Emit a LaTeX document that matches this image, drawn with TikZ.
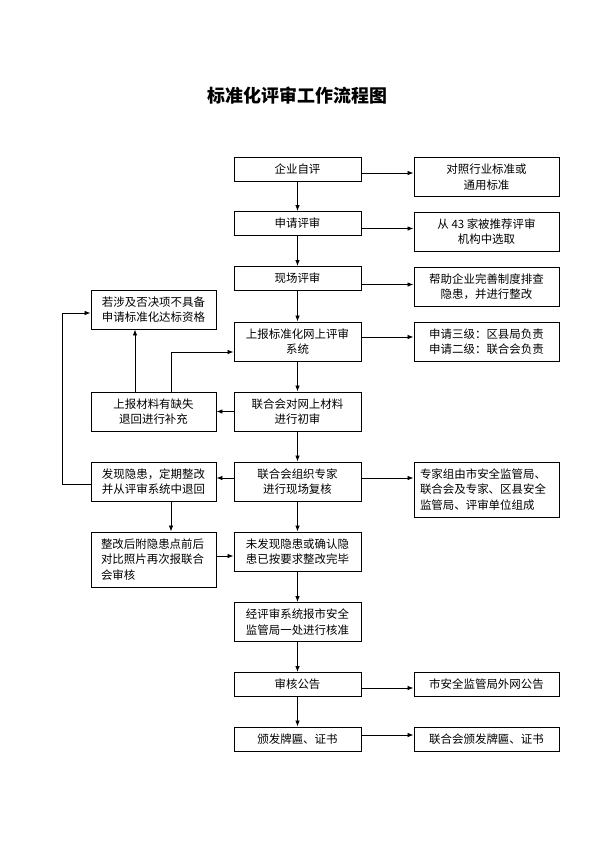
\documentclass[tikz,border=0pt]{standalone}
\usepackage{fontspec}
\setmainfont{Noto Sans CJK SC}
\usetikzlibrary{arrows.meta}
\begin{document}
\begin{tikzpicture}[x=1bp,y=-1bp,
 box/.style={draw, line width=0.9pt, inner sep=2bp, align=center, font=\fontsize{11.5}{15.5}\selectfont},
 cbox/.style={box, minimum width=127bp},
 rbox/.style={box, minimum width=145bp},
 lbox/.style={box, minimum width=125bp},
 hA/.style={minimum height=24bp},
 hB/.style={minimum height=39bp},
 hC/.style={minimum height=55bp},
 arr/.style={line width=0.8pt, -{Latex[length=6bp,width=4.5bp]}},
 ln/.style={line width=0.8pt}]
\useasboundingbox (0,0) rectangle (596,842);

\node (title) at (297.5,96) {\fontsize{18}{20}\selectfont\bfseries 标准化评审工作流程图};

% centre column
\node[cbox,hA] (n1) at (297.5,169) {企业自评};
\node[cbox,hA] (n2) at (297.5,223.5) {申请评审};
\node[cbox,hA] (n3) at (297.5,278.5) {现场评审};
\node[cbox,hB] (n4) at (297.5,341.5) {上报标准化网上评审\\系统};
\node[cbox,hB] (n5) at (297.5,411.5) {联合会对网上材料\\进行初审};
\node[cbox,hB] (n6) at (297.5,481.5) {联合会组织专家\\进行现场复核};
\node[cbox,hB] (n7) at (297.5,551.5) {未发现隐患或确认隐\\患已按要求整改完毕};
\node[cbox,hB] (n8) at (297.5,622) {经评审系统报市安全\\监管局一处进行核准};
\node[cbox,hA] (n9) at (297.5,684.5) {审核公告};
\node[cbox,hA] (n10) at (297.5,739) {颁发牌匾、证书};

% right column
\node[rbox,hB] (r1) at (486.5,177) {对照行业标准或\\通用标准};
\node[rbox,hB] (r2) at (486.5,231.5) {从 43 家被推荐评审\\机构中选取};
\node[rbox,hB] (r3) at (486.5,286.5) {帮助企业完善制度排查\\隐患，并进行整改};
\node[rbox,hB] (r4) at (486.5,341.5) {申请三级：区县局负责\\申请二级：联合会负责};
\node[rbox,hC,align=left,text width=133bp] (r6) at (486.5,489.5) {专家组由市安全监管局、\\联合会及专家、区县安全\\监管局、评审单位组成};
\node[rbox,hA] (r9) at (486.5,684.5) {市安全监管局外网公告};
\node[rbox,hA] (r10) at (486.5,739) {联合会颁发牌匾、证书};

% left column
\node[lbox,hB] (l1) at (153.5,309.5) {若涉及否决项不具备\\申请标准化达标资格};
\node[lbox,hB] (l2) at (153.5,411.5) {上报材料有缺失\\退回进行补充};
\node[lbox,hB] (l3) at (153.5,481.5) {发现隐患，定期整改\\并从评审系统中退回};
\node[lbox,hC,align=left,text width=105bp] (l4) at (153.5,559.5) {整改后附隐患点前后\\对比照片再次报联合\\会审核};

% centre vertical arrows
\draw[arr] (n1) -- (n2);
\draw[arr] (n2) -- (n3);
\draw[arr] (n3) -- (n4);
\draw[arr] (n4) -- (n5);
\draw[arr] (n5) -- (n6);
\draw[arr] (n6) -- (n7);
\draw[arr] (n7) -- (n8);
\draw[arr] (n8) -- (n9);
\draw[arr] (n9) -- (n10);

% right arrows
\coordinate (a1) at ([yshift=-4bp]n1.east);
\draw[arr] (a1) -- (a1 -| r1.west);
\coordinate (a2) at ([yshift=-5bp]n2.east);
\draw[arr] (a2) -- (a2 -| r2.west);
\coordinate (a3) at ([yshift=-6bp]n3.east);
\draw[arr] (a3) -- (a3 -| r3.west);
\coordinate (a4) at ([yshift=4.5bp]n4.east);
\draw[arr] (a4) -- (a4 -| r4.west);
\coordinate (a6) at ([yshift=3.5bp]n6.east);
\draw[arr] (a6) -- (a6 -| r6.west);
\coordinate (a9) at ([yshift=-3.5bp]n9.east);
\draw[arr] (a9) -- (a9 -| r9.west);
\coordinate (a10) at ([yshift=4bp]n10.east);
\draw[arr] (a10) -- (a10 -| r10.west);

% left side connectors
\draw[arr] (n5.west) -- (l2.east);
\coordinate (b6) at ([yshift=3.5bp]n6.west);
\draw[arr] (b6) -- (b6 -| l3.east);
\coordinate (b7) at ([yshift=3.5bp]l4.east);
\draw[arr] (b7) -- (b7 -| n7.west);

\coordinate (c1) at ([xshift=-18.5bp]l2.north);
\draw[arr] (c1) -- (c1 |- l1.south);
\coordinate (c2) at ([xshift=17.5bp]l2.north);
\coordinate (c3) at ([yshift=-10.5bp]n4.west);
\draw[arr] (c2) |- (c3);
\coordinate (c4) at ([xshift=17.5bp]l3.south);
\draw[arr] (c4) -- (c4 |- l4.north);
\coordinate (c5) at ([yshift=-2.5bp]l3.west);
\coordinate (c6) at ([yshift=-3.5bp]l1.west);
\draw[arr] (c5) -- ++(-28,0) |- (c6);
\end{tikzpicture}
\end{document}
